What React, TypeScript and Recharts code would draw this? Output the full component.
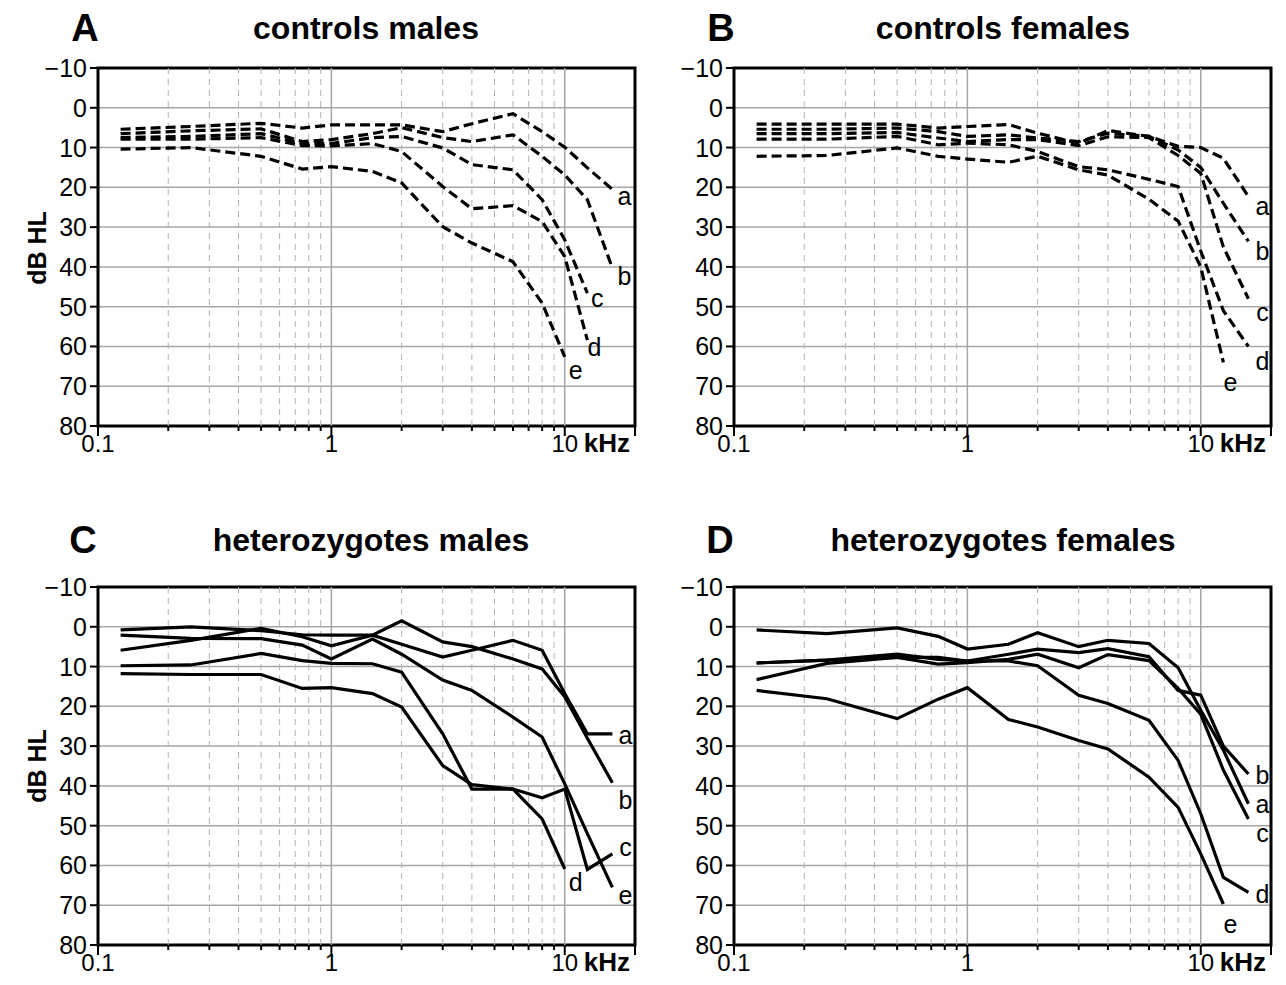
import React from 'react';
import { LineChart, Line, XAxis, YAxis, CartesianGrid, ReferenceLine, ReferenceArea } from 'recharts';

// ---------- data ----------
const FREQS = [0.125, 0.25, 0.5, 0.75, 1, 1.5, 2, 3, 4, 6, 8, 10, 12.5, 16];
const SERIES = ['a', 'b', 'c', 'd', 'e'];
const X_TICKS = [0.1, 0.2, 0.3, 0.4, 0.5, 0.6, 0.7, 0.8, 0.9, 1, 2, 3, 4, 5, 6, 7, 8, 9, 10, 20];
const X_LABELS = [0.1, 1, 10];
const MINOR_GRID = [0.2, 0.3, 0.4, 0.5, 0.6, 0.7, 0.8, 0.9, 2, 3, 4, 5, 6, 7, 8, 9];
const MAJOR_GRID = [1, 10];
const Y_TICKS = [-10, 0, 10, 20, 30, 40, 50, 60, 70, 80];

// A: controls males
const A_a = [5.4, 4.7, 3.9, 5.1, 4.3, 4.3, 4.3, 6.0, 4.0, 1.5, 6.0, 9.9, 15.1, 20.5];
const A_b = [6.5, 5.8, 5.3, 8.5, 8.0, 6.5, 5.0, 7.5, 8.5, 6.8, 12.2, 16.9, 23.1, 40.3];
const A_c = [7.5, 7.2, 6.5, 9.0, 9.0, 7.5, 7.2, 10.1, 14.3, 15.6, 23.1, 33.2, 46.6];
const A_d = [7.9, 7.9, 7.5, 9.5, 9.6, 9.0, 11.0, 19.8, 25.4, 24.6, 28.6, 37.4, 58.4];
const A_e = [10.4, 10.0, 12.2, 15.4, 14.8, 16.0, 18.9, 29.9, 34.0, 38.7, 49.1, 62.6];

// B: controls females
const B_a = [4.1, 4.1, 4.1, 5.1, 4.7, 4.2, 6.4, 8.9, 5.7, 7.2, 9.7, 10.0, 12.7, 22.3];
const B_b = [5.4, 5.4, 5.1, 6.0, 7.2, 6.8, 7.6, 8.5, 6.4, 7.2, 10.6, 15.0, 24.0, 33.6];
const B_c = [6.5, 6.5, 6.2, 7.6, 8.5, 8.0, 8.0, 9.5, 7.3, 7.5, 12.0, 16.5, 35.0, 48.0];
const B_d = [7.9, 7.9, 7.2, 9.3, 8.9, 9.3, 11.0, 14.8, 15.6, 18.0, 19.8, 36.0, 51.0, 60.0];
const B_e = [12.2, 12.0, 10.1, 12.2, 12.9, 13.7, 12.2, 15.6, 16.9, 23.0, 28.5, 40.0, 64.0];

// C: heterozygotes males
const C_a = [5.9, 3.4, 0.4, 2.5, 4.8, 2.1, 4.4, 7.6, 5.9, 3.4, 5.9, 16.8, 26.9, 26.9];
const C_b = [0.8, 0.0, 1.0, 2.0, 2.1, 2.1, -1.5, 3.8, 5.0, 8.1, 10.6, 17.6, 28.0, 39.2];
const C_c = [11.8, 12.0, 12.0, 15.5, 15.3, 16.8, 20.2, 34.9, 39.7, 40.8, 43.0, 40.8, 61.0, 57.1];
const C_d = [9.8, 9.6, 6.7, 8.5, 9.2, 9.3, 11.4, 26.9, 40.8, 40.8, 48.3, 60.9];
const C_e = [2.1, 2.9, 3.0, 4.6, 8.1, 3.1, 6.9, 13.4, 16.0, 22.7, 27.7, 39.5, 52.0, 65.5];

// D: heterozygotes females
const D_a = [0.8, 1.7, 0.3, 2.4, 5.6, 4.4, 1.5, 5.0, 3.4, 4.2, 10.3, 21.0, 31.0, 44.5];
const D_b = [9.1, 8.4, 6.9, 8.2, 8.6, 6.9, 5.6, 6.5, 5.5, 7.5, 16.0, 17.2, 30.0, 37.0];
const D_c = [13.3, 9.2, 7.7, 9.4, 9.0, 8.2, 6.9, 10.3, 7.0, 8.5, 15.5, 22.0, 36.0, 48.3];
const D_d = [9.1, 8.4, 7.7, 7.7, 8.6, 8.6, 9.8, 17.2, 19.3, 23.5, 33.6, 47.0, 63.0, 66.8];
const D_e = [16.0, 18.1, 23.1, 18.2, 15.3, 23.3, 25.2, 28.6, 30.7, 37.8, 45.4, 57.1, 69.7];

// ---------- layout / style config ----------
const FONT = '"Liberation Sans", Arial, Helvetica, sans-serif';
const CHART_W = 650;
const CHART_H = 460;
const MARGIN = { top: 68, right: 15, bottom: 0, left: 0 };

// offsets of the end-of-curve letters (px from last point)
const LABEL_OFF: Record<string, Record<string, [number, number]>> = {
  A: { a: [12, 7], b: [12, 8], c: [10, 5], d: [7, 7], e: [11, 13] },
  B: { a: [14, 10], b: [14, 10], c: [14, 13], d: [14, 15], e: [7, 20] },
  C: { a: [13, 1], b: [13, 17], c: [13, -7], d: [11, 13], e: [13, 8] },
  D: { a: [14, 0], b: [14, 1], c: [14, 14], d: [14, 2], e: [7, 20] },
};

function buildRows(series: number[][]) {
  return FREQS.map((f, i) => {
    const row: Record<string, number | null> = { f };
    SERIES.forEach((k, j) => {
      const v = series[j][i];
      row[k] = v === undefined ? null : v;
    });
    return row;
  });
}

const PANELS = [
  { id: 'A', left: 0, top: 0, dashed: true, rows: buildRows([A_a, A_b, A_c, A_d, A_e]), lens: [A_a, A_b, A_c, A_d, A_e].map((s) => s.length) },
  { id: 'B', left: 636, top: 0, dashed: true, rows: buildRows([B_a, B_b, B_c, B_d, B_e]), lens: [B_a, B_b, B_c, B_d, B_e].map((s) => s.length) },
  { id: 'C', left: 0, top: 519, dashed: false, rows: buildRows([C_a, C_b, C_c, C_d, C_e]), lens: [C_a, C_b, C_c, C_d, C_e].map((s) => s.length) },
  { id: 'D', left: 636, top: 519, dashed: false, rows: buildRows([D_a, D_b, D_c, D_d, D_e]), lens: [D_a, D_b, D_c, D_d, D_e].map((s) => s.length) },
];

const fmtTick = (v: number) => (v < 0 ? '\u2212' + String(-v) : String(v));

const XTick = (props: any) => {
  const { x, y, payload } = props;
  const v = payload.value;
  const major = v === 0.1 || v === 1 || v === 10 || v === 20;
  const len = major ? 10 : 5;
  return (
    <g>
      <line x1={x} x2={x} y1={y} y2={y + len} stroke="#000" strokeWidth={2} />
      {X_LABELS.includes(v) && (
        <text x={x} y={y + 26} textAnchor="middle" fontSize={24} fontFamily={FONT} fill="#000">
          {String(v)}
        </text>
      )}
      {v === 10 && (
        <text x={x + 19} y={y + 26} textAnchor="start" fontSize={26} fontWeight="bold" fontFamily={FONT} fill="#000">
          kHz
        </text>
      )}
    </g>
  );
};

const YTick = (props: any) => {
  const { x, y, payload } = props;
  return (
    <g>
      <line x1={x - 8} x2={x} y1={y} y2={y} stroke="#000" strokeWidth={2} />
      <text x={x - 11} y={y + 9} textAnchor="end" fontSize={25} fontFamily={FONT} fill="#000">
        {fmtTick(payload.value)}
      </text>
    </g>
  );
};

function makeEndLabel(panelId: string, key: string, lastIndex: number) {
  return (props: any) => {
    const { x, y, index } = props;
    if (index !== lastIndex || x == null || y == null) return null;
    const [dx, dy] = LABEL_OFF[panelId][key];
    return (
      <text key={`${panelId}-${key}-lbl`} x={x + dx} y={y + dy} textAnchor="middle" dominantBaseline="central" fontSize={25} fontFamily={FONT} fill="#000">
        {key}
      </text>
    );
  };
}

function Panel({ p }: { p: (typeof PANELS)[number] }) {
  return (
    <div style={{ position: 'absolute', left: p.left, top: p.top, width: CHART_W, height: CHART_H }}>
      <LineChart width={CHART_W} height={CHART_H} data={p.rows} margin={MARGIN}>
        <CartesianGrid vertical={false} stroke="#a6a6a6" strokeWidth={1.5} />
        {MINOR_GRID.map((g) => (
          <ReferenceLine key={`mn${g}`} x={g} stroke="#b3b3b3" strokeWidth={1} strokeDasharray="6 5" />
        ))}
        {MAJOR_GRID.map((g) => (
          <ReferenceLine key={`mj${g}`} x={g} stroke="#a6a6a6" strokeWidth={1.5} />
        ))}
        <XAxis
          dataKey="f"
          type="number"
          scale="log"
          domain={[0.1, 20]}
          ticks={X_TICKS}
          interval={0}
          allowDataOverflow
          axisLine={false}
          tickLine={false}
          tickSize={0}
          tickMargin={0}
          height={34}
          tick={<XTick />}
        />
        <YAxis
          type="number"
          reversed
          domain={[-10, 80]}
          ticks={Y_TICKS}
          interval={0}
          allowDataOverflow
          axisLine={false}
          tickLine={false}
          tickSize={0}
          tickMargin={0}
          width={98}
          tick={<YTick />}
        />
        <ReferenceArea x1={0.1} x2={20} y1={-10} y2={80} fill="none" fillOpacity={0} stroke="#000" strokeWidth={3} ifOverflow="visible" />
        {SERIES.map((k, j) => (
          <Line
            key={k}
            dataKey={k}
            type="linear"
            stroke="#000"
            strokeWidth={3.2}
            strokeDasharray={p.dashed ? '10 5' : undefined}
            dot={false}
            activeDot={false}
            connectNulls={false}
            isAnimationActive={false}
            label={makeEndLabel(p.id, k, p.lens[j] - 1)}
          />
        ))}
      </LineChart>
    </div>
  );
}

const TITLES = [
  { letter: 'A', lx: 85, title: 'controls males', tx: 366, y: 28 },
  { letter: 'B', lx: 721, title: 'controls females', tx: 1003, y: 28 },
  { letter: 'C', lx: 83, title: 'heterozygotes males', tx: 371, y: 540 },
  { letter: 'D', lx: 720, title: 'heterozygotes females', tx: 1003, y: 540 },
];

export default function App() {
  return (
    <div style={{ position: 'absolute', left: 0, top: 0, width: 1286, height: 985, background: '#fff', fontFamily: FONT }}>
      {PANELS.map((p) => (
        <Panel key={p.id} p={p} />
      ))}
      <svg width={1286} height={985} style={{ position: 'absolute', left: 0, top: 0, pointerEvents: 'none' }}>
        {TITLES.map((t) => (
          <g key={t.letter}>
            <text x={t.lx} y={t.y} textAnchor="middle" dominantBaseline="central" fontSize={38} fontWeight="bold" fontFamily={FONT} fill="#000">
              {t.letter}
            </text>
            <text x={t.tx} y={t.y} textAnchor="middle" dominantBaseline="central" fontSize={32} fontWeight="bold" fontFamily={FONT} fill="#000">
              {t.title}
            </text>
          </g>
        ))}
        <text x={37} y={248} transform="rotate(-90 37 248)" textAnchor="middle" dominantBaseline="central" fontSize={25} fontWeight="bold" fontFamily={FONT} fill="#000">
          dB HL
        </text>
        <text x={37} y={766} transform="rotate(-90 37 766)" textAnchor="middle" dominantBaseline="central" fontSize={25} fontWeight="bold" fontFamily={FONT} fill="#000">
          dB HL
        </text>
      </svg>
    </div>
  );
}
